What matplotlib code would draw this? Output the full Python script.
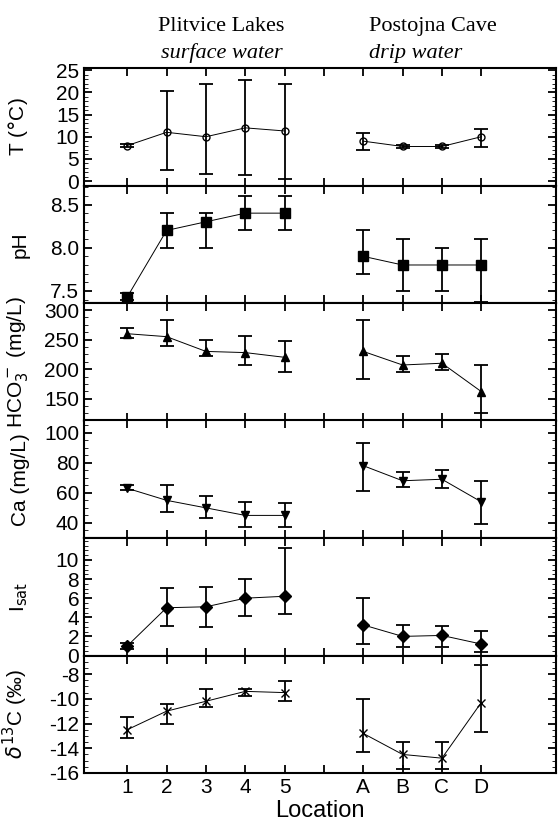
import matplotlib
matplotlib.use("Agg")
import matplotlib.pyplot as plt
from matplotlib.ticker import AutoMinorLocator
import numpy as np

plt.rcParams['font.family'] = ['Liberation Sans', 'DejaVu Sans']

pos = [1, 2, 3, 4, 5, 7, 8, 9, 10]
labels = ['1', '2', '3', '4', '5', 'A', 'B', 'C', 'D']

T = [8, 11, 10, 12, 11.3, 9, 7.8, 7.8, 10]
T_lo = [7.7, 2.5, 1.5, 1.3, 0.5, 7, 7.5, 7.5, 7.7]
T_hi = [8.3, 20.2, 22, 22.7, 21.8, 10.8, 8.1, 8.1, 11.8]
pH = [7.43, 8.2, 8.3, 8.4, 8.4, 7.9, 7.8, 7.8, 7.8]
pH_lo = [7.39, 8.0, 8.0, 8.2, 8.2, 7.7, 7.5, 7.5, 7.37]
pH_hi = [7.47, 8.4, 8.4, 8.6, 8.6, 8.2, 8.1, 8.0, 8.1]
HCO = [260, 255, 230, 228, 220, 230, 207, 210, 162]
HCO_lo = [252, 240, 222, 207, 195, 183, 195, 198, 125]
HCO_hi = [270, 283, 250, 256, 248, 283, 222, 225, 207]
Ca = [63, 55, 50, 45, 45, 78, 68, 69, 54]
Ca_lo = [62, 47, 43, 37, 37, 61, 64, 63, 39]
Ca_hi = [65, 65, 58, 54, 53, 93, 74, 75, 68]
Isat = [1, 5, 5.1, 6, 6.2, 3.2, 2, 2.1, 1.2]
Isat_lo = [0.7, 3.1, 3, 4.1, 4.3, 1.2, 0.9, 0.9, 0.4]
Isat_hi = [1.3, 7.1, 7.2, 8, 11.3, 6, 3.2, 3.1, 2.6]
dC = [-12.5, -11, -10.2, -9.4, -9.5, -12.8, -14.5, -14.8, -10.3]
dC_lo = [-13.2, -12, -10.7, -9.8, -10.2, -14.3, -15.7, -15.7, -12.7]
dC_hi = [-11.5, -10.4, -9.2, -9.2, -8.6, -10, -13.5, -13.5, -7.3]

panels = [
    (T, T_lo, T_hi, 'o', 'none', r'T ($\degree$C)', (-1, 25.5), [0, 5, 10, 15, 20, 25], ['0','5','10','15','20','25']),
    (pH, pH_lo, pH_hi, 's', 'k', 'pH', (7.36, 8.72), [7.5, 8.0, 8.5], ['7.5','8.0','8.5']),
    (HCO, HCO_lo, HCO_hi, '^', 'k', r'HCO$_3^-$ (mg/L)', (113, 312), [150, 200, 250, 300], ['150','200','250','300']),
    (Ca, Ca_lo, Ca_hi, 'v', 'k', 'Ca (mg/L)', (30, 108), [40, 60, 80, 100], ['40','60','80','100']),
    (Isat, Isat_lo, Isat_hi, 'D', 'k', r'I$_{\rm sat}$', (0, 12.3), [0, 2, 4, 6, 8, 10], ['0','2','4','6','8','10']),
    (dC, dC_lo, dC_hi, 'x', 'k', r'$\delta^{13}$C (‰)', (-16, -6.5), [-16, -14, -12, -10, -8], ['-16','-14','-12','-10','-8']),
]

fig = plt.figure(figsize=(5.58, 8.31), dpi=100)
top, bottom = 1 - 68/831, 1 - 773/831
h = (top - bottom) / 6
left, right = 84/558, 556/558
axes = []
for i, (v, lo, hi, m, fc, lab, yl, yt, ytl) in enumerate(panels):
    ax = fig.add_axes([left, top - (i+1)*h, right-left, h])
    axes.append(ax)
    v = np.array(v); lo = np.array(lo); hi = np.array(hi)
    err = [v - lo, hi - v]
    for seg in (slice(0, 5), slice(5, 9)):
        x = np.array(pos[seg])
        ax.plot(x, v[seg], '-', color='k', lw=0.7)
        ax.errorbar(x, v[seg], yerr=[err[0][seg], err[1][seg]], fmt=m, color='k',
                    mfc=fc, mec='k', ms=7 if m in 's' else (6 if m != 'o' else 5),
                    ecolor='k', elinewidth=1.3, capsize=5, capthick=1.3, lw=0)
    ax.set_xlim(-0.1, 11.9)
    ax.set_ylim(*yl)
    ax.set_yticks(yt)
    ax.set_yticklabels(ytl)
    ax.set_xticks([1, 2, 3, 4, 5, 6, 7, 8, 9, 10])
    ax.yaxis.set_minor_locator(AutoMinorLocator(5 if i in (1, 0) else 4))
    ax.tick_params(direction='in', which='both', top=True, right=True, labelsize=15)
    ax.tick_params(which='major', length=6, width=1.3)
    ax.tick_params(which='minor', length=3)
    for s in ax.spines.values():
        s.set_linewidth(1.5)
    ax.set_ylabel(lab, fontsize=15)
    if i < 5:
        ax.set_xticklabels([])
    else:
        ax.set_xticklabels(['1', '2', '3', '4', '5', '', 'A', 'B', 'C', 'D'])
        ax.set_xlabel('Location', fontsize=17, labelpad=2)
for ax in axes:
    ax.yaxis.set_label_coords(-0.115, 0.5)

fig.text(0.397, 0.963, 'Plitvice Lakes', ha='center', fontsize=16, family='Liberation Serif')
fig.text(0.397, 0.930, 'surface water', ha='center', fontsize=16, family='Liberation Serif', style='italic')
fig.text(0.775, 0.963, 'Postojna Cave', ha='center', fontsize=16, family='Liberation Serif')
fig.text(0.745, 0.930, 'drip water', ha='center', fontsize=16, family='Liberation Serif', style='italic')

fig.savefig('out.png', dpi=100)
